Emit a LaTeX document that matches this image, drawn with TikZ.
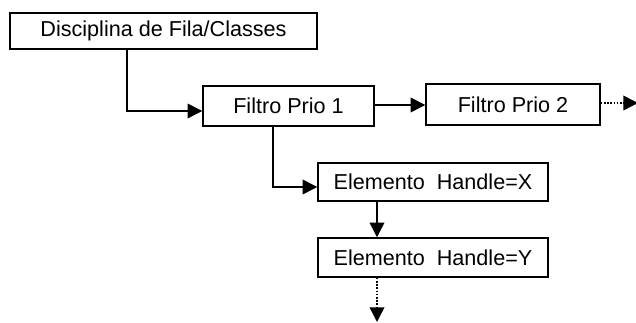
\documentclass[tikz,border=0pt]{standalone}
\usepackage{fontspec}
\setmainfont{Liberation Sans}
\usetikzlibrary{arrows.meta}
\begin{document}
\begin{tikzpicture}[x=0.75pt,y=-0.75pt,
  box/.style={draw,line width=1.1pt,inner sep=0pt,font=\fontsize{16.2}{19}\selectfont},
  link/.style={line width=1.1pt,-{Triangle[length=11pt,width=11pt]}},
  dotlink/.style={link,dash pattern=on 1.2pt off 1.2pt}]
  \useasboundingbox (0,0) rectangle (636,323);
  % boxes
  \node[box,minimum width=307*0.75pt,minimum height=36*0.75pt] (disc) at (163.5,31) {Disciplina de Fila/Classes};
  \node[box,minimum width=171*0.75pt,minimum height=40*0.75pt] (f1) at (288.5,106) {Filtro Prio 1};
  \node[box,minimum width=174*0.75pt,minimum height=41*0.75pt] (f2) at (513,104.5) {Filtro Prio 2};
  \node[box,minimum width=230*0.75pt,minimum height=38*0.75pt] (hx) at (433,182) {Elemento\ \ Handle=X};
  \node[box,minimum width=230*0.75pt,minimum height=39*0.75pt] (hy) at (433,257.5) {Elemento\ \ Handle=Y};
  % loose ends
  \coordinate (f2end) at (638,103);
  \coordinate (hyend) at (377,322);
  % connectors
  \draw[link] (disc.south -| 127,0) |- (f1.west |- 0,111);
  \draw[link] (f1.east |- 0,105) -- (f2.west |- 0,105);
  \draw[dotlink] (f2.east |- f2end) -- (f2end);
  \draw[link] (f1.south -| 273,0) |- (hx.west |- 0,187);
  \draw[link] (hx.south -| 377,0) -- (hy.north -| 377,0);
  \draw[dotlink] (hy.south -| hyend) -- (hyend);
\end{tikzpicture}
\end{document}
